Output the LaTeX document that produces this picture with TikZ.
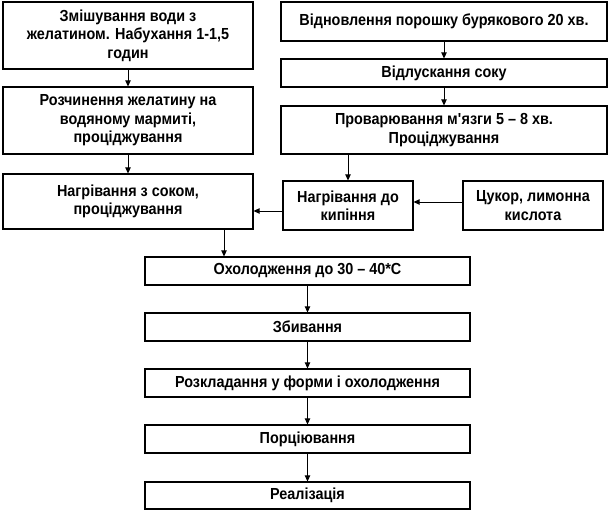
\documentclass[tikz,border=0pt]{standalone}
\usepackage{fontspec}
\setmainfont{Liberation Sans}[FakeStretch=0.9]
\usetikzlibrary{arrows.meta}
\begin{document}
\begin{tikzpicture}[x=1pt,y=-1pt,
  box/.style={draw,line width=1.2pt,inner sep=0pt,align=center,
    font=\fontsize{16}{18.5}\selectfont\bfseries},
  arr/.style={line width=0.9pt,-{Triangle[length=6pt,width=5.5pt]}}]
\useasboundingbox (0,0) rectangle (611,513);
\node[box,minimum width=250,minimum height=67] (A) at (128,35.5) {Змішування води з\\желатином. Набухання 1-1,5\\годин};
\node[box,minimum width=250,minimum height=67] (B) at (128,120.5) {Розчинення желатину на\\водяному мармиті,\\проціджування};
\node[box,minimum width=250,minimum height=55] (C) at (128,201.5) {Нагрівання з соком,\\проціджування};
\node[box,minimum width=326,minimum height=39] (D) at (444,21.5) {Відновлення порошку бурякового 20 хв.};
\node[box,minimum width=326,minimum height=28] (E) at (444,73) {Відлускання соку};
\node[box,minimum width=326,minimum height=48] (F) at (444,130) {Проварювання м\textquotesingle язги 5 – 8 хв.\\Проціджування};
\node[box,minimum width=130,minimum height=49] (G) at (348,205.5) {Нагрівання до\\кипіння};
\node[box,minimum width=140,minimum height=49] (H) at (533,205.5) {Цукор, лимонна\\кислота};
\node[box,minimum width=325,minimum height=28] (I) at (307.5,271) {Охолодження до 30 – 40*С};
\node[box,minimum width=325,minimum height=28] (J) at (307.5,327) {Збивання};
\node[box,minimum width=325,minimum height=28] (K) at (307.5,383) {Розкладання у форми і охолодження};
\node[box,minimum width=325,minimum height=28] (L) at (307.5,439) {Порціювання};
\node[box,minimum width=325,minimum height=27] (M) at (307.5,495.5) {Реалізація};
\draw[arr] (A) -- (B);
\draw[arr] (B) -- (C);
\draw[arr] (D) -- (E);
\draw[arr] (E) -- (F);
\draw[arr] (F.south -| G.north) -- (G.north);
\draw[arr] ([yshift=3.5]H.west) -- ([yshift=3.5]G.east);
\draw[arr] ([yshift=-5.5]G.west) -- ([yshift=-5.5]G.west -| C.east);
\path ([xshift=96]C.south) coordinate (c1);
\draw[arr] (c1) -- (c1 |- I.north);
\draw[arr] (I) -- (J);
\draw[arr] (J) -- (K);
\draw[arr] (K) -- (L);
\draw[arr] (L) -- (M);
\end{tikzpicture}
\end{document}
